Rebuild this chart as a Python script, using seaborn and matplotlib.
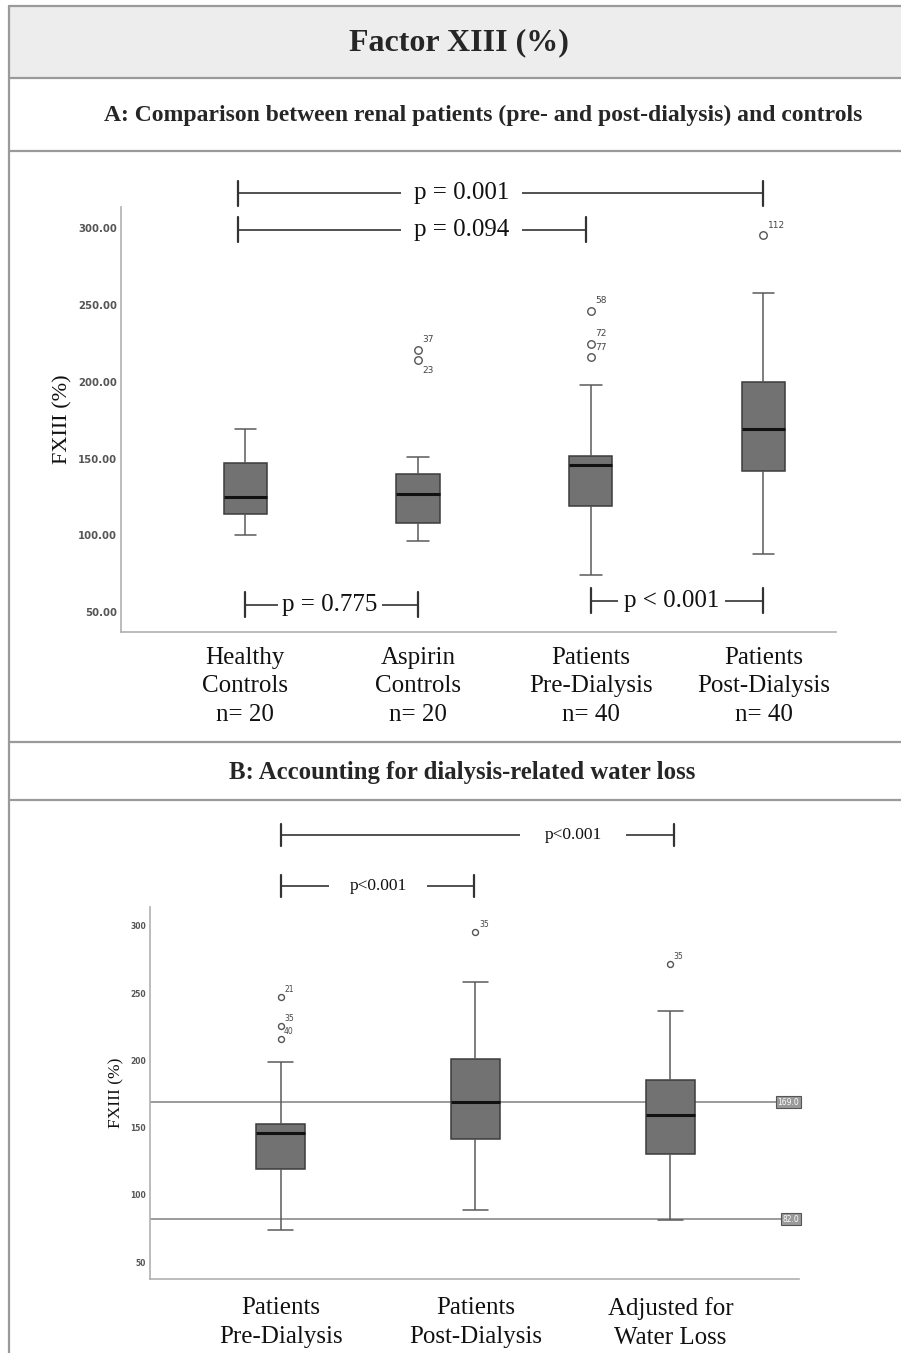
import matplotlib
matplotlib.use("Agg")
import matplotlib.pyplot as plt
import matplotlib.transforms as mtransforms
from matplotlib.lines import Line2D
from matplotlib.patches import Rectangle
import seaborn as sns
import pandas as pd

# ---- data ----
# box summaries: whisker low, Q1, median, Q3, whisker high
groups_a = ["Healthy Controls", "Aspirin Controls", "Patients Pre-Dialysis", "Patients Post-Dialysis"]
labels_a = ["Healthy\nControls\nn= 20", "Aspirin\nControls\nn= 20",
            "Patients\nPre-Dialysis\nn= 40", "Patients\nPost-Dialysis\nn= 40"]
healthy_a = [100.5, 114, 125, 147, 169]
aspirin_a = [96.5, 108, 127, 140, 151]
pre_a = [74, 119, 146, 152, 198]
post_a = [88, 142, 169, 200, 258]

out_group_a = ["Aspirin Controls", "Aspirin Controls", "Patients Pre-Dialysis",
               "Patients Pre-Dialysis", "Patients Pre-Dialysis", "Patients Post-Dialysis"]
out_value_a = [221, 214, 246.5, 225, 216, 295.5]
out_id_a = ["37", "23", "58", "72", "77", "112"]

pairs_a = [(0, 3), (0, 2), (0, 1), (2, 3)]
pvals_a = ["p = 0.001", "p = 0.094", "p = 0.775", "p < 0.001"]

groups_b = ["Patients Pre-Dialysis", "Patients Post-Dialysis", "Adjusted for Water Loss"]
labels_b = ["Patients\nPre-Dialysis", "Patients\nPost-Dialysis", "Adjusted for\nWater Loss"]
pre_b = [74, 119, 146, 152.5, 199]
post_b = [88.5, 141.5, 169, 201, 258]
adjusted_b = [81, 130, 159.5, 185.5, 237]

out_group_b = ["Patients Pre-Dialysis", "Patients Pre-Dialysis", "Patients Pre-Dialysis",
               "Patients Post-Dialysis", "Adjusted for Water Loss"]
out_value_b = [247, 225.5, 216, 295.5, 271.5]
out_id_b = ["21", "35", "40", "35", "35"]

ref_lines_b = [169.0, 82.0]
pairs_b = [(0, 2), (0, 1)]
pvals_b = ["p<0.001", "p<0.001"]

W, H = 901, 1353
SERIF = "Liberation Serif"
BOX = "#727272"
FRAME = "#9a9a9a"


def fig_rect(l, t, r, b):
    """pixel box -> figure fraction [left, bottom, width, height]"""
    return [l / W, 1 - b / H, (r - l) / W, (b - t) / H]


def long_df(groups, boxes):
    rows = []
    for g, vals in zip(groups, boxes):
        for v in vals:
            rows.append({"group": g, "value": v})
    return pd.DataFrame(rows)


def draw_boxes(ax, groups, boxes, out_group, out_value, out_id, msize, id_size, id_off):
    df = long_df(groups, boxes)
    sns.boxplot(data=df, x="group", y="value", order=groups, ax=ax, width=0.25,
                color=BOX, saturation=1, whis=(0, 100), fliersize=0,
                linecolor="#3c3c3c", linewidth=1.1,
                medianprops=dict(color="#111111", linewidth=2.2),
                whiskerprops=dict(color="#5a5a5a", linewidth=1.1),
                capprops=dict(color="#5a5a5a", linewidth=1.1))
    odf = pd.DataFrame({"group": out_group, "value": out_value})
    sns.stripplot(data=odf, x="group", y="value", order=groups, ax=ax, jitter=False,
                  color="white", edgecolor="#555555", linewidth=1.0, size=msize, zorder=5)
    for g, v, lab in zip(out_group, out_value, out_id):
        dy = id_off[1]
        # lower of two neighbouring aspirin outliers has its id below
        if lab == "23":
            dy = -dy
        ax.annotate(lab, (groups.index(g), v), xytext=(id_off[0], dy),
                    textcoords="offset points", ha="left", va="center",
                    fontsize=id_size, color="#444444", family="DejaVu Sans")


def style_axes(ax):
    sns.despine(ax=ax)
    for s in ["left", "bottom"]:
        ax.spines[s].set_color("#b0b0b0")
        ax.spines[s].set_linewidth(1.2)
    ax.tick_params(length=0)
    ax.set_xlabel("")


def bracket(ax, x0, x1, y, text, tx, half, tick, fsize):
    kw = dict(color="#333333", lw=1.2, clip_on=False, solid_capstyle="butt")
    ax.plot([x0, tx - half], [y, y], **kw)
    ax.plot([tx + half, x1], [y, y], **kw)
    ax.plot([x0, x0], [y - tick, y + tick], color="#333333", lw=1.6, clip_on=False)
    ax.plot([x1, x1], [y - tick, y + tick], color="#333333", lw=1.6, clip_on=False)
    ax.text(tx, y, text, ha="center", va="center", fontsize=fsize, family=SERIF,
            color="#111111")


sns.set_theme(style="white")
plt.rcParams["font.family"] = ["DejaVu Sans"]

fig = plt.figure(figsize=(W / 100, H / 100), dpi=100)

# ---- table frame ----
fig.add_artist(Rectangle((9 / W, 1 - 78 / H), 1 - 9 / W, 72 / H, transform=fig.transFigure,
                         facecolor="#ededed", edgecolor="none", zorder=0))
for yy in [6, 78, 151, 742, 800]:
    fig.add_artist(Line2D([9 / W, 1], [1 - yy / H] * 2, transform=fig.transFigure,
                          color=FRAME, lw=1.6))
fig.add_artist(Line2D([9 / W] * 2, [1 - 6 / H, 0], transform=fig.transFigure,
                      color=FRAME, lw=1.6))

fig.text(459 / W, 1 - 43 / H, "Factor XIII (%)", ha="center", va="center",
         fontsize=23, fontweight="bold", family=SERIF)
fig.text(483 / W, 1 - 115 / H,
         "A: Comparison between renal patients (pre- and post-dialysis) and controls",
         ha="center", va="center", fontsize=17, fontweight="bold", family=SERIF)
fig.text(462 / W, 1 - 772 / H, "B: Accounting for dialysis-related water loss",
         ha="center", va="center", fontsize=17.8, fontweight="bold", family=SERIF)

# ---- panel A ----
ax_a = fig.add_axes(fig_rect(121, 207, 836, 632))
draw_boxes(ax_a, groups_a, [healthy_a, aspirin_a, pre_a, post_a],
           out_group_a, out_value_a, out_id_a, msize=5.4, id_size=6.5, id_off=(3, 7))
style_axes(ax_a)
ax_a.set_xlim(-0.72, 3.42)
ax_a.set_ylim(37, 314)
ax_a.set_yticks([50, 100, 150, 200, 250, 300])
ax_a.set_yticklabels([f"{t:.2f}" for t in [50, 100, 150, 200, 250, 300]],
                     fontsize=7.3, fontweight="bold", color="#555555")
ax_a.set_xticks(range(len(groups_a)))
ax_a.set_xticklabels(labels_a, fontsize=18, family=SERIF, linespacing=1.4, color="#111111")
ax_a.tick_params(axis="x", pad=10.5)
ax_a.tick_params(axis="y", pad=3)
ax_a.set_ylabel("FXIII (%)", fontsize=16, family=SERIF, labelpad=4, color="#111111")

ya = [322.8, 299.3, 54.9, 57.5]
txa = [1.25, 1.25, 0.49, 2.47]
halfa = [0.35, 0.35, 0.30, 0.31]
x0a = [-0.04, -0.04, 0.0, 2.0]
for (i, j), p, y, tx, hf, x0 in zip(pairs_a, pvals_a, ya, txa, halfa, x0a):
    bracket(ax_a, x0, j if j != 2 else 1.97, y, p, tx, hf, 8, 18)

# ---- panel B ----
ax_b = fig.add_axes(fig_rect(150, 907, 799, 1279))
for r in ref_lines_b:
    ax_b.axhline(r, color="#8a8a8a", lw=1.2, zorder=1)
draw_boxes(ax_b, groups_b, [pre_b, post_b, adjusted_b],
           out_group_b, out_value_b, out_id_b, msize=4.3, id_size=5.5, id_off=(2.5, 5.5))
style_axes(ax_b)
ax_b.set_xlim(-0.67, 2.66)
ax_b.set_ylim(37.4, 314)
ax_b.set_yticks([50, 100, 150, 200, 250, 300])
ax_b.set_yticklabels(["50", "100", "150", "200", "250", "300"],
                     fontsize=5.5, fontweight="bold", color="#555555")
ax_b.set_xticks(range(len(groups_b)))
ax_b.set_xticklabels(labels_b, fontsize=18, family=SERIF, linespacing=1.4, color="#111111")
ax_b.tick_params(axis="x", pad=13)
ax_b.tick_params(axis="y", pad=3)
ax_b.set_ylabel("FXIII (%)", fontsize=12.5, family=SERIF, labelpad=4, color="#111111")

trans = mtransforms.blended_transform_factory(ax_b.transAxes, ax_b.transData)
for r in ref_lines_b:
    ax_b.text(1.0, r, f"{r:.1f}", transform=trans, ha="right", va="center", fontsize=5.5,
              color="white", zorder=6,
              bbox=dict(boxstyle="square,pad=0.2", fc="#9a9a9a", ec="#555555", lw=0.8))

yb = [367.7, 329.8]
txb = [1.5, 0.5]
halfb = [0.27, 0.25]
x1b = [2.02, 0.99]
for (i, j), p, y, tx, hf, x1 in zip(pairs_b, pvals_b, yb, txb, halfb, x1b):
    bracket(ax_b, 0.0, x1, y, p, tx, hf, 8.2, 12.5)

fig.savefig("out.png", dpi=100)
